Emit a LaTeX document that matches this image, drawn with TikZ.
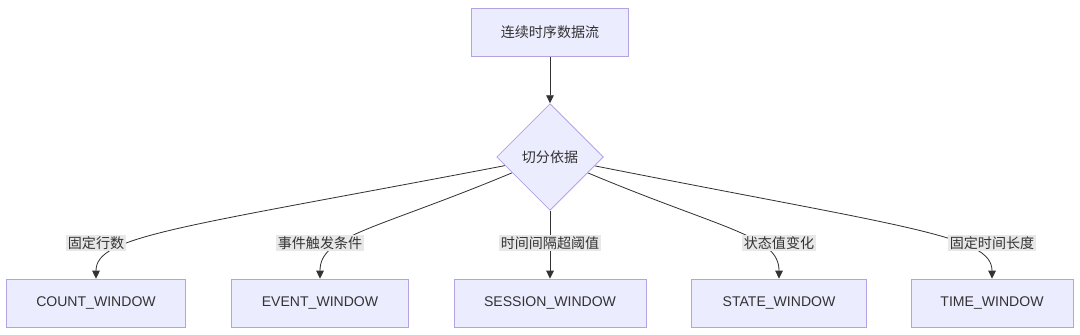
\documentclass[tikz,border=0pt]{standalone}
\usepackage{fontspec}
\setmainfont{Liberation Sans}
\newfontfamily\cjk{Noto Sans CJK SC}
\usepackage{tikz}
\usetikzlibrary{
  positioning,
  arrows.meta,
  shapes.geometric,
  calc,
  backgrounds
}
\definecolor{boxfill}{HTML}{ECECFF}
\definecolor{boxline}{HTML}{B3A3E3}
\definecolor{inkgray}{HTML}{333333}
\definecolor{lblfill}{HTML}{E8E8E8}
\tikzset{
  flowarrow/.style={-{Triangle[length=2.4mm,width=2.3mm]},line width=0.7pt,draw=inkgray},
  process/.style={rectangle,draw=boxline,fill=boxfill,line width=0.7pt,align=center,
    minimum height=1.44cm,inner xsep=0.82cm,text=inkgray,font=\fontsize{12}{14}\selectfont},
  decision/.style={diamond,draw=boxline,fill=boxfill,line width=0.7pt,aspect=1,
    minimum size=3.2cm,inner sep=0pt,text=inkgray,font=\cjk\fontsize{12}{14}\selectfont},
  edgelabel/.style={rectangle,fill=lblfill,inner sep=1.5pt,text=inkgray,
    font=\cjk\fontsize{12}{14}\selectfont}
}
\begin{document}
\begin{tikzpicture}[node distance=3.75cm, on grid]
    \useasboundingbox (0,0) rectangle (32.4,-10.05);
    \node[process,minimum width=4.71cm,font=\cjk\fontsize{12}{14}\selectfont] (stream) at (16.5,-0.96) {连续时序数据流};
    \node[decision,below=of stream] (split) {切分依据};
    \node[process,below=4.38cm of split,minimum width=5.76cm] (session) {SESSION\_WINDOW};
    \node[process,left=6.9cm of session,minimum width=5.31cm] (event) {EVENT\_WINDOW};
    \node[process,left=13.62cm of session,minimum width=5.37cm] (count) {COUNT\_WINDOW};
    \node[process,right=6.87cm of session,minimum width=5.25cm] (state) {STATE\_WINDOW};
    \node[process,right=13.26cm of session,minimum width=4.86cm] (time) {TIME\_WINDOW};

    % labels sit on the edges
    \node[edgelabel,above=1.8cm of count] (lcount) {固定行数};
    \node[edgelabel,above=1.8cm of event] (levent) {事件触发条件};
    \node[edgelabel,above=1.8cm of session] (lsession) {时间间隔超阈值};
    \node[edgelabel,above=1.8cm of state] (lstate) {状态值变化};
    \node[edgelabel,above=1.8cm of time] (ltime) {固定时间长度};

    \begin{scope}[on background layer]
    \draw[flowarrow] (stream) -- (split);
    \draw[flowarrow] (split) .. controls ($(lcount)+(2.49,0.45)$) and ($(count.north)+(0,1.29)$) .. (count.north);
    \draw[flowarrow] (split) .. controls ($(levent)+(1.65,0.39)$) and ($(event.north)+(0,1.29)$) .. (event.north);
    \draw[flowarrow] (split) -- (session);
    \draw[flowarrow] (split) .. controls ($(lstate)+(-1.65,0.39)$) and ($(state.north)+(0,1.29)$) .. (state.north);
    \draw[flowarrow] (split) .. controls ($(ltime)+(-2.49,0.45)$) and ($(time.north)+(0,1.29)$) .. (time.north);
    \end{scope}
\end{tikzpicture}
\end{document}
